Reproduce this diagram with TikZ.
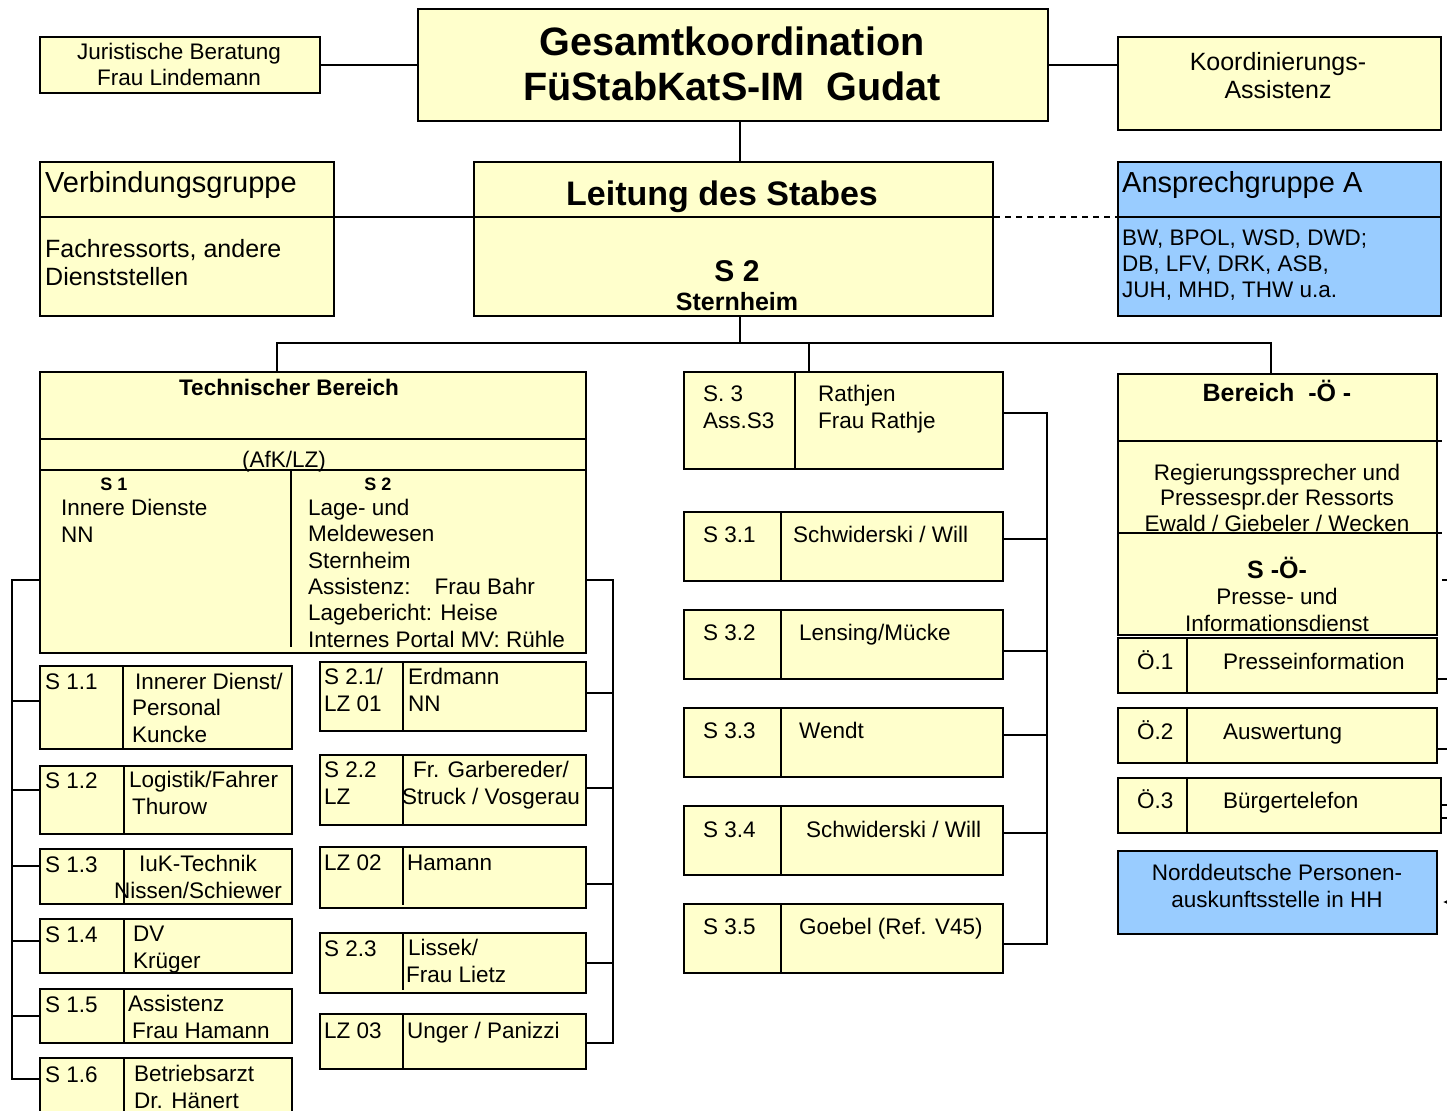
\documentclass[tikz,border=0pt]{standalone}
\usepackage{fontspec}
\setmainfont{Liberation Sans}
\usepackage{xcolor}
\usetikzlibrary{arrows.meta}
\definecolor{orgyellow}{HTML}{FFFFCC}
\definecolor{orgblue}{HTML}{99CCFF}

\begin{document}
\begin{tikzpicture}[x=1pt, y=-1pt,
    box/.style={draw, line width=2pt, fill=orgyellow, inner sep=0pt, anchor=north west},
    bluebox/.style={box, fill=orgblue},
    link/.style={line width=2pt},
    txt/.style={inner sep=0pt, anchor=base west, align=left, font=\fontsize{22.5}{26.3}\selectfont},
    ctxt/.style={txt, anchor=base, align=center},
    head/.style={font=\bfseries\fontsize{22.5}{26.3}\selectfont},
    small head/.style={font=\bfseries\fontsize{18}{22}\selectfont}
]
    \useasboundingbox (0,0) rectangle (1447,1110);
    \clip (0,0) rectangle (1447,1110);

    % Kopf (Texte mehrzeilig: Position = Grundlinie der letzten Zeile)
    \node[box, minimum width=280pt, minimum height=56pt] (jur) at (39,36) {};
    \node[box, minimum width=630pt, minimum height=112pt] (gesamt) at (417,8) {};
    \node[box, minimum width=323pt, minimum height=93pt] (koord) at (1117,36) {};
    \node[ctxt] (jur-t) at (179,86) {Juristische Beratung\\Frau Lindemann};
    \node[ctxt, font=\bfseries\fontsize{39.6}{45}\selectfont] (gesamt-t) at (732,101) {Gesamtkoordination\\FüStabKatS-IM\ \ Gudat};
    \node[ctxt, font=\fontsize{25}{28}\selectfont] (koord-t) at (1278,99) {Koordinierungs-\\Assistenz};

    \node[box, minimum width=294pt, minimum height=154pt] (verb) at (39,161) {};
    \node[box, minimum width=519pt, minimum height=154pt] (leit) at (473,161) {};
    \node[bluebox, minimum width=323pt, minimum height=154pt] (ansp) at (1117,161) {};
    \node[txt, font=\fontsize{29}{34}\selectfont] (verb-h) at (45,193) {Verbindungsgruppe};
    \node[txt, font=\fontsize{25}{28}\selectfont] (verb-t) at (45,285) {Fachressorts, andere\\Dienststellen};
    \node[ctxt, font=\bfseries\fontsize{34}{40}\selectfont] (leit-h) at (722,205) {Leitung des Stabes};
    \node[ctxt, font=\bfseries\fontsize{30}{34}\selectfont] (leit-s) at (737,281) {S 2};
    \node[ctxt, font=\bfseries\fontsize{25}{28}\selectfont] (leit-n) at (737,310) {Sternheim};
    \node[txt, font=\fontsize{29}{34}\selectfont] (ansp-h) at (1122,193) {Ansprechgruppe A};
    \node[txt, font=\fontsize{22.5}{26}\selectfont] (ansp-t) at (1122,297) {BW, BPOL, WSD, DWD;\\DB, LFV, DRK, ASB,\\JUH, MHD, THW u.a.};

    \draw[link] (jur) -- (gesamt);
    \draw[link] (gesamt.east) -- (gesamt.east -| koord.west);
    \path ([xshift=7pt]gesamt.south) coordinate (g-s);
    \draw[link] (g-s) -- (g-s |- leit.north);
    \draw[link] ([yshift=-56pt]verb.north west) -- ([yshift=-56pt]leit.north east);
    \draw[line width=1.5pt, dash pattern=on 6pt off 5pt] ([yshift=-56pt]leit.north east) -- ([yshift=-56pt]ansp.north west);
    \draw[link] ([yshift=-56pt]ansp.north west) -- ([yshift=-56pt]ansp.north east);

    % Verteiler
    \coordinate (bus-l) at (277,343);
    \coordinate (bus-m) at (809,343);
    \coordinate (bus-r) at (1271,343);

    % Technischer Bereich
    \node[box, minimum width=546pt, minimum height=281pt] (tech) at (39,371) {};
    \draw[link] ([yshift=-68pt]tech.north west) -- ([yshift=-68pt]tech.north east);
    \draw[link] ([yshift=-99pt]tech.north west) -- ([yshift=-99pt]tech.north east);
    \draw[link] ([xshift=252pt, yshift=-99pt]tech.north west) -- ([xshift=252pt, yshift=7pt]tech.south west);
    \node[ctxt, head] (tech-h) at (289,395) {Technischer Bereich};
    \node[ctxt] (tech-a) at (284,467) {(AfK/LZ)};
    \node[ctxt, small head] (tech-s1) at (114,490) {S 1};
    \node[txt] (tech-s1t) at (61,542) {Innere Dienste\\NN};
    \node[ctxt, small head] (tech-s2) at (378,490) {S 2};
    \node[txt] (tech-s2t) at (308,647) {Lage- und\\Meldewesen\\Sternheim\\Assistenz:\hspace{24pt}Frau Bahr\\Lagebericht: Heise\\Internes Portal MV: Rühle};

    \node[box, minimum width=252pt, minimum height=83pt] (s11) at (39,665) {};
    \node[box, minimum width=252pt, minimum height=68pt] (s12) at (39,765) {};
    \node[box, minimum width=252pt, minimum height=55pt] (s13) at (39,848) {};
    \node[box, minimum width=252pt, minimum height=54pt] (s14) at (39,918) {};
    \node[box, minimum width=252pt, minimum height=54pt] (s15) at (39,988) {};
    \node[box, minimum width=252pt, minimum height=70pt] (s16) at (39,1057) {};
    \draw[link] ([xshift=84pt]s11.north west) -- ([xshift=84pt]s11.south west);
    \draw[link] ([xshift=85pt]s12.north west) -- ([xshift=85pt]s12.south west);
    \draw[link] ([xshift=85pt]s13.north west) -- ([xshift=85pt]s13.south west);
    \draw[link] ([xshift=85pt]s14.north west) -- ([xshift=85pt]s14.south west);
    \draw[link] ([xshift=85pt]s15.north west) -- ([xshift=85pt]s15.south west);
    \draw[link] ([xshift=85pt]s16.north west) -- ([xshift=85pt]s16.south west);
    \node[txt] (s11-l) at (45,689) {S 1.1};
    \node[txt] (s11-t) at (132,742) {\hspace{3pt}Innerer Dienst/\\Personal\\Kuncke};
    \node[txt] (s12-l) at (45,788) {S 1.2};
    \node[txt] (s12-t) at (129,814) {Logistik/Fahrer\\\hspace{3pt}Thurow};
    \node[txt] (s13-l) at (45,872) {S 1.3};
    \node[ctxt] (s13-t) at (198,898) {IuK-Technik\\Nissen/Schiewer};
    \node[txt] (s14-l) at (45,942) {S 1.4};
    \node[txt] (s14-t) at (133,968) {DV\\Krüger};
    \node[txt] (s15-l) at (45,1012) {S 1.5};
    \node[txt] (s15-t) at (128,1038) {Assistenz\\\hspace{4pt}Frau Hamann};
    \node[txt] (s16-l) at (45,1082) {S 1.6};
    \node[txt] (s16-t) at (134,1108) {Betriebsarzt\\Dr. Hänert};

    \node[box, minimum width=266pt, minimum height=69pt] (s21) at (319,661) {};
    \node[box, minimum width=266pt, minimum height=70pt] (s22) at (319,754) {};
    \node[box, minimum width=266pt, minimum height=61pt] (lz02) at (319,846) {};
    \node[box, minimum width=266pt, minimum height=60pt] (s23) at (319,932) {};
    \node[box, minimum width=266pt, minimum height=55pt] (lz03) at (319,1013) {};
    \draw[link] ([xshift=84pt]s21.north west) -- ([xshift=84pt]s21.south west);
    \draw[link] ([xshift=84pt]s22.north west) -- ([xshift=84pt]s22.south west);
    \draw[link] ([xshift=84pt]lz02.north west) -- ([xshift=84pt, yshift=4pt]lz02.south west);
    \draw[link] ([xshift=84pt]s23.north west) -- ([xshift=84pt, yshift=4pt]s23.south west);
    \draw[link] ([xshift=84pt]lz03.north west) -- ([xshift=84pt]lz03.south west);
    \node[txt] (s21-l) at (324,711) {S 2.1/\\LZ 01};
    \node[txt] (s21-t) at (408,711) {Erdmann\\NN};
    \node[txt] (s22-l) at (324,804) {S 2.2\\LZ};
    \node[ctxt] (s22-t) at (491,804) {Fr. Garbereder/\\Struck / Vosgerau};
    \node[txt] (lz02-l) at (324,870) {LZ 02};
    \node[txt] (lz02-t) at (407,870) {Hamann};
    \node[txt] (s23-l) at (324,956) {S 2.3};
    \node[txt] (s23-t) at (406,982) {\hspace{2pt}Lissek/\\Frau Lietz};
    \node[txt] (lz03-l) at (324,1038) {LZ 03};
    \node[txt] (lz03-t) at (407,1038) {Unger / Panizzi};

    % S 3
    \node[box, minimum width=319pt, minimum height=97pt] (s3) at (683,371) {};
    \node[box, minimum width=319pt, minimum height=69pt] (s31) at (683,511) {};
    \node[box, minimum width=319pt, minimum height=69pt] (s32) at (683,609) {};
    \node[box, minimum width=319pt, minimum height=69pt] (s33) at (683,707) {};
    \node[box, minimum width=319pt, minimum height=69pt] (s34) at (683,805) {};
    \node[box, minimum width=319pt, minimum height=69pt] (s35) at (683,903) {};
    \draw[link] ([xshift=112pt]s3.north west) -- ([xshift=112pt]s3.south west);
    \draw[link] ([xshift=98pt]s31.north west) -- ([xshift=98pt]s31.south west);
    \draw[link] ([xshift=98pt]s32.north west) -- ([xshift=98pt]s32.south west);
    \draw[link] ([xshift=98pt]s33.north west) -- ([xshift=98pt]s33.south west);
    \draw[link] ([xshift=98pt]s34.north west) -- ([xshift=98pt]s34.south west);
    \draw[link] ([xshift=98pt]s35.north west) -- ([xshift=98pt]s35.south west);
    \node[txt] (s3-l) at (703,428) {S. 3\\Ass.S3};
    \node[txt] (s3-t) at (818,428) {Rathjen\\Frau Rathje};
    \node[txt] (s31-l) at (703,542) {S 3.1};
    \node[txt] (s31-t) at (793,542) {Schwiderski / Will};
    \node[txt] (s32-l) at (703,640) {S 3.2};
    \node[txt] (s32-t) at (799,640) {Lensing/Mücke};
    \node[txt] (s33-l) at (703,738) {S 3.3};
    \node[txt] (s33-t) at (799,738) {Wendt};
    \node[txt] (s34-l) at (703,837) {S 3.4};
    \node[txt] (s34-t) at (806,837) {Schwiderski / Will};
    \node[txt] (s35-l) at (703,934) {S 3.5};
    \node[txt] (s35-t) at (799,934) {Goebel (Ref. V45)};

    % Bereich -Oe-
    \node[box, minimum width=319pt, minimum height=261pt] (bero) at (1117,373) {};
    \draw[link] ([yshift=-68pt]bero.north west) -- ([xshift=4pt, yshift=-68pt]bero.north east);
    \draw[link] ([yshift=-160pt]bero.north west) -- ([xshift=4pt, yshift=-160pt]bero.north east);
    \node[ctxt, font=\bfseries\fontsize{25}{28}\selectfont] (bero-h) at (1277,401) {Bereich\ \ -Ö -};
    \node[ctxt, font=\fontsize{22.5}{25.5}\selectfont] (bero-t) at (1277,531) {Regierungssprecher und\\Pressespr.der Ressorts\\Ewald / Giebeler / Wecken};
    \node[ctxt, font=\bfseries\fontsize{25}{28}\selectfont] (bero-s) at (1277,578) {S -Ö-};
    \node[ctxt] (bero-p) at (1277,631) {Presse- und\\Informationsdienst};

    \node[box, minimum width=319pt, minimum height=55pt] (o1) at (1117,637) {};
    \node[box, minimum width=319pt, minimum height=55pt] (o2) at (1117,707) {};
    \node[box, minimum width=323pt, minimum height=55pt] (o3) at (1117,777) {};
    \node[bluebox, minimum width=319pt, minimum height=83pt] (nord) at (1117,850) {};
    \draw[link] ([xshift=70pt]o1.north west) -- ([xshift=70pt]o1.south west);
    \draw[link] ([xshift=70pt]o2.north west) -- ([xshift=70pt]o2.south west);
    \draw[link] ([xshift=70pt]o3.north west) -- ([xshift=70pt]o3.south west);
    \node[txt] (o1-l) at (1137,669) {Ö.1};
    \node[txt] (o1-t) at (1223,669) {Presseinformation};
    \node[txt] (o2-l) at (1137,739) {Ö.2};
    \node[txt] (o2-t) at (1223,739) {Auswertung};
    \node[txt] (o3-l) at (1137,808) {Ö.3};
    \node[txt] (o3-t) at (1223,808) {Bürgertelefon};
    \node[ctxt] (nord-t) at (1277,907) {Norddeutsche Personen-\\auskunftsstelle in HH};

    % Verbindungen
    \path ([xshift=6.5pt]leit.south) coordinate (l-s);
    \draw[link] (l-s) -- (l-s |- bus-l);
    \draw[link] (bus-l |- tech.north) -- (bus-l) -- (bus-r) -- (bus-r |- bero.north);
    \draw[link] (bus-m) -- (bus-m |- s3.north);

    \coordinate (lb-top) at (12,580);
    \coordinate (lb-bot) at (12,1079);
    \draw[link] ([yshift=-209pt]tech.north west) -- (lb-top) -- (lb-bot) -- (lb-bot -| s16.west);
    \draw[link] ([yshift=-36pt]s11.north west) -| (lb-top);
    \draw[link] ([yshift=-25pt]s12.north west) -| (lb-top);
    \draw[link] ([yshift=-18pt]s13.north west) -| (lb-top);
    \draw[link] ([yshift=-23pt]s14.north west) -| (lb-top);
    \draw[link] ([yshift=-28pt]s15.north west) -| (lb-top);

    \coordinate (rb-top) at (613,580);
    \coordinate (rb-bot) at (613,1043);
    \draw[link] ([yshift=-209pt]tech.north east) -- (rb-top) -- (rb-bot) -- (rb-bot -| lz03.east);
    \draw[link] ([yshift=-32pt]s21.north east) -| (rb-top);
    \draw[link] ([yshift=-34pt]s22.north east) -| (rb-top);
    \draw[link] ([yshift=-38pt]lz02.north east) -| (rb-top);
    \draw[link] ([yshift=-31pt]s23.north east) -| (rb-top);

    \coordinate (mb-top) at (1047,413);
    \coordinate (mb-bot) at (1047,944);
    \draw[link] ([yshift=-42pt]s3.north east) -- (mb-top) -- (mb-bot) -- (mb-bot -| s35.east);
    \draw[link] ([yshift=-28pt]s31.north east) -| (mb-top);
    \draw[link] ([yshift=-42pt]s32.north east) -| (mb-top);
    \draw[link] ([yshift=-28pt]s33.north east) -| (mb-top);
    \draw[link] ([yshift=-28pt]s34.north east) -| (mb-top);

    % Anschluesse am rechten Rand
    \coordinate (out-bero) at (1447,580);
    \coordinate (out-o1) at (1447,679);
    \coordinate (out-o2) at (1447,749);
    \coordinate (out-o3a) at (1447,805);
    \coordinate (out-o3b) at (1447,818);
    \coordinate (out-nord) at (1452,902);
    \draw[link] ([xshift=4pt]out-bero -| bero.east) -- (out-bero);
    \draw[link] (out-o1 -| o1.east) -- (out-o1);
    \draw[link] (out-o2 -| o2.east) -- (out-o2);
    \draw[link] (out-o3a -| o3.east) -- (out-o3a);
    \draw[link] (out-o3b -| o3.east) -- (out-o3b);
    \draw[line width=1pt, -{Latex[length=5pt, width=5pt]}, shorten >=5pt] (out-nord) -- (out-nord -| nord.east);
\end{tikzpicture}
\end{document}
